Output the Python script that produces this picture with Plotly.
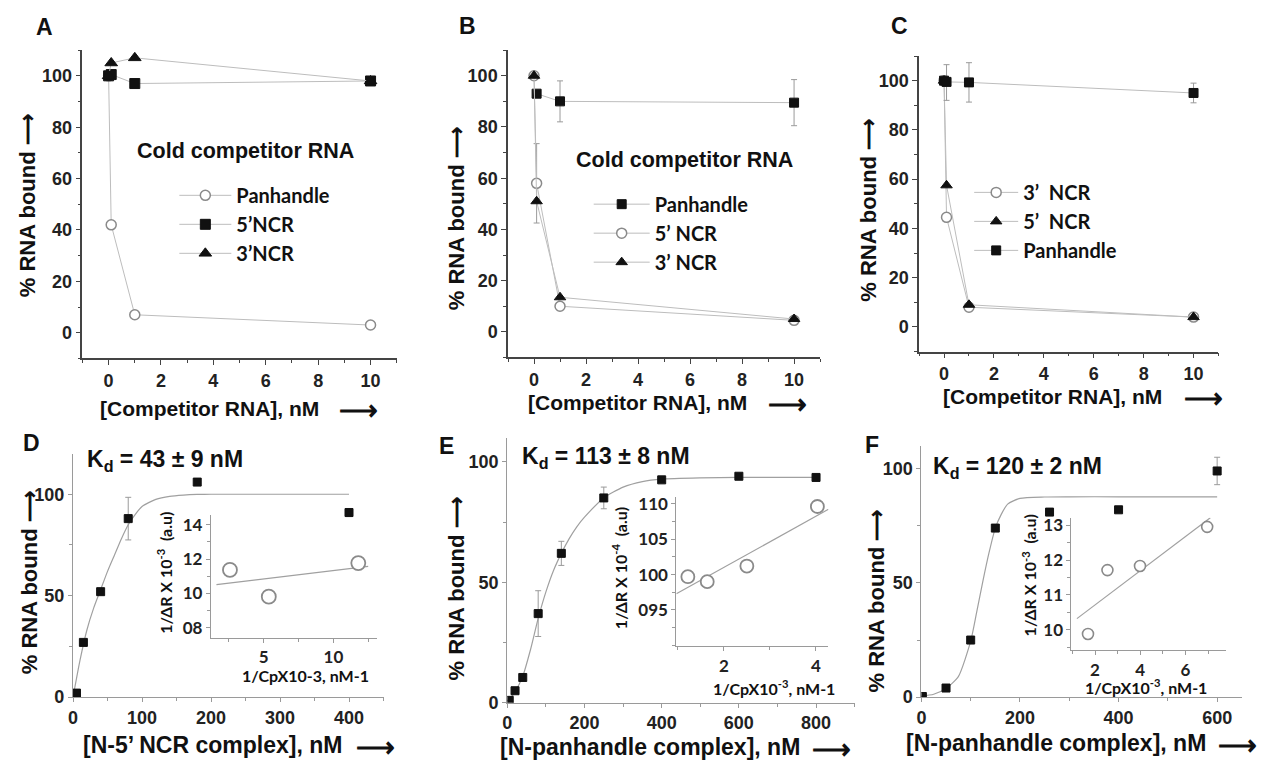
import plotly.graph_objects as go

W, H = 1269, 771
ARIAL = "Liberation Sans, Arial, sans-serif"
CAL = "Lato, Carlito, sans-serif"

# ---------------- data ----------------
comp_x = [0, 0.1, 1, 10]
# Panel A
A_panhandle = [100, 42, 7, 3]
A_5ncr = [100, 100.5, 97, 98]
A_3ncr = [100, 105, 107, 98]
# Panel B
B_panhandle_x = [0.1, 1, 10]
B_panhandle = [93, 90, 89.5]
B_panhandle_err = [0, 8, 9]
B_5ncr = [100, 58, 10, 4.5]
B_5ncr_err = [0, 15.5, 0, 0]
B_3ncr = [100, 51, 13.5, 5]
# Panel C
C_3ncr = [100, 44.5, 8, 4]
C_5ncr = [100, 57.5, 9, 4]
C_panhandle = [100, 99.5, 99.3, 95]
C_panhandle_errp = [0, 7, 8, 4]
C_panhandle_errm = [0, 7.5, 8, 4]
# Panel D
D_x = [5, 15, 40, 80, 180, 400]
D_y = [2, 27, 52, 88, 106, 91]
D_err = [0, 0, 0, 10.5, 0, 2]
D_fit_x = [0, 10, 20, 30, 40, 50, 60, 70, 80, 90, 100, 120, 140, 160, 180, 200, 250, 300, 350, 400]
D_fit_y = [0, 18, 33, 44, 53, 62, 70, 78, 85, 90, 94, 97.5, 99, 99.6, 99.9, 100, 100, 100, 100, 100]
D_in_x = [2.57, 5.36, 11.79]
D_in_y = [11.37, 9.81, 11.77]
D_in_line_x = [1.6, 12.5]
D_in_line_y = [10.51, 11.58]
# Panel E
E_x = [5, 20, 40, 80, 140, 250, 400, 600, 800]
E_y = [1, 5, 10.5, 37, 62, 85, 92.5, 94, 93.5]
E_err = [0, 0, 0, 9.5, 5, 4.5, 0, 0, 0]
E_fit_x = [0, 20, 40, 60, 80, 100, 120, 140, 160, 180, 200, 250, 300, 350, 400, 500, 600, 700, 800]
E_fit_y = [0, 4.5, 11, 22, 35, 46, 55, 62, 68, 73, 77, 85, 89.5, 91.8, 92.8, 93.3, 93.5, 93.5, 93.5]
E_in_x = [1.22, 1.64, 2.5, 4.03]
E_in_y = [99.7, 99.0, 101.2, 109.6]
E_in_line_x = [0.97, 4.27]
E_in_line_y = [97.3, 109.2]
# Panel F
F_x = [2, 50, 100, 150, 260, 400, 600]
F_y = [0.3, 4, 25, 74, 81, 82, 99]
F_err = [0, 0, 0, 0, 0, 0, 6]
F_fit_x = [0, 25, 50, 75, 100, 112, 125, 137, 150, 162, 175, 200, 250, 300, 400, 500, 600]
F_fit_y = [0.5, 1.3, 3.8, 9, 24.5, 37, 51, 63, 74, 80, 84.5, 87, 87.6, 87.7, 87.7, 87.7, 87.7]
F_in_x = [1.69, 2.55, 3.99, 6.96]
F_in_y = [9.88, 11.71, 11.83, 12.95]
F_in_line_x = [1.2, 7.1]
F_in_line_y = [10.32, 13.21]

# ---------------- helpers ----------------
def xd(p0, p1):
    return [p0 / W, p1 / W]

def yd(top, bottom):
    return [1 - bottom / H, 1 - top / H]

LINE_C = "#bdbdbd"
CIRC_C = "#8a8a8a"
ERR = dict(type="data", color="#9a9a9a", thickness=1, width=3, visible=True)

fig = go.Figure()

def sq(x, y, xa, ya, name=None, legend=None, size=10, err=None, errm=None, mode="lines+markers", show=True):
    e = None
    if err is not None:
        e = dict(ERR, array=err)
        if errm is not None:
            e["arrayminus"] = errm
            e["symmetric"] = False
    fig.add_trace(go.Scatter(x=x, y=y, xaxis=xa, yaxis=ya, mode=mode, name=name,
                             legend=legend, showlegend=show and name is not None,
                             line=dict(color=LINE_C, width=1),
                             marker=dict(symbol="square", size=size, color="#111",
                                         line=dict(color="#111", width=1)),
                             error_y=e))

def circ(x, y, xa, ya, name=None, legend=None, size=10, err=None, mode="lines+markers", lw=1.5, show=True):
    e = dict(ERR, array=err) if err is not None else None
    fig.add_trace(go.Scatter(x=x, y=y, xaxis=xa, yaxis=ya, mode=mode, name=name,
                             legend=legend, showlegend=show and name is not None,
                             line=dict(color=LINE_C, width=1),
                             marker=dict(symbol="circle", size=size, color="white",
                                         line=dict(color=CIRC_C, width=lw)),
                             error_y=e))

def tri(x, y, xa, ya, name=None, legend=None, size=11):
    fig.add_trace(go.Scatter(x=x, y=y, xaxis=xa, yaxis=ya, mode="lines+markers", name=name,
                             legend=legend, showlegend=name is not None,
                             line=dict(color=LINE_C, width=1),
                             marker=dict(symbol="triangle-up", size=size, color="#111",
                                         line=dict(color="#111", width=1))))

def fitline(x, y, xa, ya, shape="spline"):
    fig.add_trace(go.Scatter(x=x, y=y, xaxis=xa, yaxis=ya, mode="lines", showlegend=False,
                             line=dict(color="#a0a0a0", width=1.2, shape=shape, smoothing=0.6),
                             hoverinfo="skip"))

# ---------------- traces ----------------
# A
circ(comp_x, A_panhandle, "x", "y", "Panhandle", "legend")
sq(comp_x, A_5ncr, "x", "y", "5\u2019NCR", "legend")
tri(comp_x, A_3ncr, "x", "y", "3\u2019NCR", "legend")
# B
sq(B_panhandle_x, B_panhandle, "x2", "y2", "Panhandle", "legend2", size=9, err=B_panhandle_err)
circ(comp_x, B_5ncr, "x2", "y2", "5\u2019 NCR", "legend2", err=B_5ncr_err)
tri(comp_x, B_3ncr, "x2", "y2", "3\u2019 NCR", "legend2", size=10)
# C
circ(comp_x, C_3ncr, "x3", "y3", "3\u2019  NCR", "legend3")
tri(comp_x, C_5ncr, "x3", "y3", "5\u2019  NCR", "legend3", size=10)
sq(comp_x, C_panhandle, "x3", "y3", "Panhandle", "legend3", size=9, err=C_panhandle_errp, errm=C_panhandle_errm)
# D
fitline(D_fit_x, D_fit_y, "x4", "y4")
sq(D_x, D_y, "x4", "y4", size=8, err=D_err, mode="markers")
fitline(D_in_line_x, D_in_line_y, "x7", "y7", shape="linear")
circ(D_in_x, D_in_y, "x7", "y7", size=14, mode="markers", lw=1.8)
# E
fitline(E_fit_x, E_fit_y, "x5", "y5")
sq(E_x, E_y, "x5", "y5", size=8, err=E_err, mode="markers")
fitline(E_in_line_x, E_in_line_y, "x8", "y8", shape="linear")
circ(E_in_x, E_in_y, "x8", "y8", size=13, mode="markers", lw=1.8)
# F
fitline(F_fit_x, F_fit_y, "x6", "y6")
sq(F_x, F_y, "x6", "y6", size=8, err=F_err, mode="markers")
fitline(F_in_line_x, F_in_line_y, "x9", "y9", shape="linear")
circ(F_in_x, F_in_y, "x9", "y9", size=11, mode="markers", lw=1.6)

# ---------------- axes ----------------
TOPAX = dict(showline=True, linecolor="#444", linewidth=1.5, ticks="outside", ticklen=5,
             tickwidth=1.3, tickcolor="#444", showgrid=False, zeroline=False,
             tickfont=dict(family=ARIAL, size=18, color="#222", weight="bold"))
BOTAX = dict(showline=True, linecolor="#9a9a9a", linewidth=1.2, ticks="outside", ticklen=4,
             tickwidth=1, tickcolor="#9a9a9a", showgrid=False, zeroline=False,
             tickfont=dict(family=ARIAL, size=18, color="#222", weight="bold"))
INAX = dict(showline=True, linecolor="#9a9a9a", linewidth=1, ticks="outside", ticklen=4,
            tickwidth=1, tickcolor="#9a9a9a", showgrid=False, zeroline=False,
            tickfont=dict(family=CAL, size=17, color="#222", weight="bold"))

def mn(d, ln=3, col="#444"):
    return dict(dtick=d, ticklen=ln, ticks="outside", tickcolor=col, showgrid=False)

lay = {}
# top row
for i, (xp, ypx) in enumerate([((77.7, 393.3), (47, 361)), ((505, 818.3), (47, 360)),
                               ((917.7, 1218.3), (53, 354))]):
    s = "" if i == 0 else str(i + 1)
    lay["xaxis" + s] = dict(TOPAX, domain=xd(*xp), range=[-1, 11], dtick=2, tick0=0,
                            minor=mn(1), anchor="y" + s)
    lay["yaxis" + s] = dict(TOPAX, domain=yd(*ypx), range=[-10, 110], dtick=20, tick0=0,
                            minor=mn(10), anchor="x" + s)
# bottom row
lay["xaxis4"] = dict(BOTAX, domain=xd(68.3, 380), range=[0, 450], dtick=100, minor=mn(50, 3, "#9a9a9a"), anchor="y4")
lay["yaxis4"] = dict(BOTAX, domain=yd(458, 706), range=[0, 120], tickvals=[0, 50, 100], minor=dict(mn(25, 3, "#9a9a9a"), tick0=0), anchor="x4")
lay["xaxis5"] = dict(BOTAX, domain=xd(504.3, 853), range=[0, 900], dtick=200, minor=mn(100, 3, "#9a9a9a"), anchor="y5")
lay["yaxis5"] = dict(BOTAX, domain=yd(441.7, 711.7), range=[0, 110], tickvals=[0, 50, 100], minor=dict(mn(25, 3, "#9a9a9a"), tick0=0), anchor="x5")
lay["xaxis6"] = dict(BOTAX, domain=xd(920, 1241.7), range=[0, 650], dtick=200, minor=mn(100, 3, "#9a9a9a"), anchor="y6")
lay["yaxis6"] = dict(BOTAX, domain=yd(450, 706), range=[0, 110], tickvals=[0, 50, 100], minor=dict(mn(25, 3, "#9a9a9a"), tick0=0), anchor="x6")
# insets
lay["xaxis7"] = dict(INAX, domain=xd(206.7, 373), range=[1.2, 13.1], tickvals=[5, 10], minor=dict(mn(2.5, 3, "#9a9a9a"), tick0=0), anchor="y7")
lay["yaxis7"] = dict(INAX, domain=yd(520, 645.7), range=[7.4, 14.6], tickvals=[8, 10, 12, 14],
                     ticktext=["08", "10", "12", "14"], minor=dict(mn(1, 3, "#9a9a9a"), tick0=0), anchor="x7")
lay["xaxis8"] = dict(INAX, domain=xd(674, 826.7), range=[0.97, 4.27], tickvals=[2, 4], minor=dict(mn(1, 3, "#9a9a9a"), tick0=0), anchor="y8")
lay["yaxis8"] = dict(INAX, domain=yd(501.7, 654), range=[89.9, 111], tickvals=[95, 100, 105, 110],
                     ticktext=["095", "100", "105", "110"], minor=dict(mn(2.5, 3, "#9a9a9a"), tick0=0), anchor="x8")
lay["xaxis9"] = dict(INAX, domain=xd(1070.7, 1226), range=[0.96, 7.8], tickvals=[2, 4, 6], minor=dict(mn(1, 3, "#9a9a9a"), tick0=0), anchor="y9")
lay["yaxis9"] = dict(INAX, domain=yd(523.3, 658.3), range=[9.41, 13.21], tickvals=[10, 11, 12, 13],
                     minor=dict(mn(0.5, 3, "#9a9a9a"), tick0=0), anchor="x9")

# ---------------- legends ----------------
LEGFONT = dict(family=CAL, size=20, color="#111", weight="bold")
def leg(x, y, iw):
    return dict(x=x / W, y=1 - y / H, xanchor="left", yanchor="top", bgcolor="rgba(0,0,0,0)",
                borderwidth=0, font=LEGFONT, itemwidth=iw, tracegroupgap=0, traceorder="normal")

lay["legend"] = leg(170, 175, 52)
lay["legend2"] = leg(586, 184, 56)
lay["legend3"] = leg(968, 172, 44)

# ---------------- annotations ----------------
anns = []
def ann(text, x, y, size, family=ARIAL, xanchor="center", angle=0, color="#111"):
    anns.append(dict(text=text, x=x / W, y=1 - y / H, xref="paper", yref="paper", showarrow=False,
                     xanchor=xanchor, yanchor="middle", textangle=angle,
                     font=dict(family=family, size=size, color=color, weight="bold")))

# panel letters
for t, x, y in [("A", 39.5, 23), ("B", 464.5, 22), ("C", 898, 22), ("D", 27, 447), ("E", 443, 450), ("F", 870, 449)]:
    ann(t, x, y, 23)

# legend titles
ann("Cold competitor RNA", 131, 150, 21.5, xanchor="left")
ann("Cold competitor RNA", 571, 159, 21.5, xanchor="left")

# x titles
ann("[Competitor RNA], nM", 93, 412, 21, xanchor="left")
ann("\u27f6", 355, 413, 27)
ann("[Competitor RNA], nM", 523, 406, 21, xanchor="left")
ann("\u27f6", 786, 407, 27)
ann("[Competitor RNA], nM", 940, 400, 21, xanchor="left")
ann("\u27f6", 1203, 401, 27)
ann("[N-5\u2019 NCR complex], nM", 76, 755, 23, xanchor="left")
ann("\u27f6", 372, 757, 27)
ann("[N-panhandle complex], nM", 495, 757, 23, xanchor="left")
ann("\u27f6", 830, 759, 27)
ann("[N-panhandle complex], nM", 903, 753, 23, xanchor="left")
ann("\u27f6", 1237, 755, 27)

# y titles
for x, y in [(22, 205), (453, 218), (867, 210), (24, 589), (453, 595), (875, 608)]:
    ann("% RNA bound \u27f6", x, y, 22, angle=-90)

# Kd
ann("K<sub>d</sub> = 43 \u00b1 9 nM", 80, 465, 23, xanchor="left")
ann("K<sub>d</sub> = 113 \u00b1 8 nM", 517, 462, 23, xanchor="left")
ann("K<sub>d</sub> = 120 \u00b1 2 nM", 930, 472, 23, xanchor="left")

# inset titles
ann("1/CpX10-3, nM-1", 302, 684, 16, family=CAL)
ann("1/CpX10<sup>-3</sup>, nM-1", 772, 696, 16, family=CAL)
ann("1/CpX10<sup>-3</sup>, nM-1", 1146, 695, 16, family=CAL)
ann("1/\u0394R X 10<sup>-3</sup>  (a.u)", 160, 579, 16, family=CAL, angle=-90)
ann("1/\u0394R X 10<sup>-4</sup>  (a.u)", 617, 575, 16, family=CAL, angle=-90)
ann("1/\u0394R X 10<sup>-3</sup>  (a.u)", 1028, 582, 16, family=CAL, angle=-90)

fig.update_layout(width=W, height=H, margin=dict(l=0, r=0, t=0, b=0),
                  paper_bgcolor="white", plot_bgcolor="rgba(0,0,0,0)",
                  annotations=anns, **lay)

fig.write_html("out.html")
